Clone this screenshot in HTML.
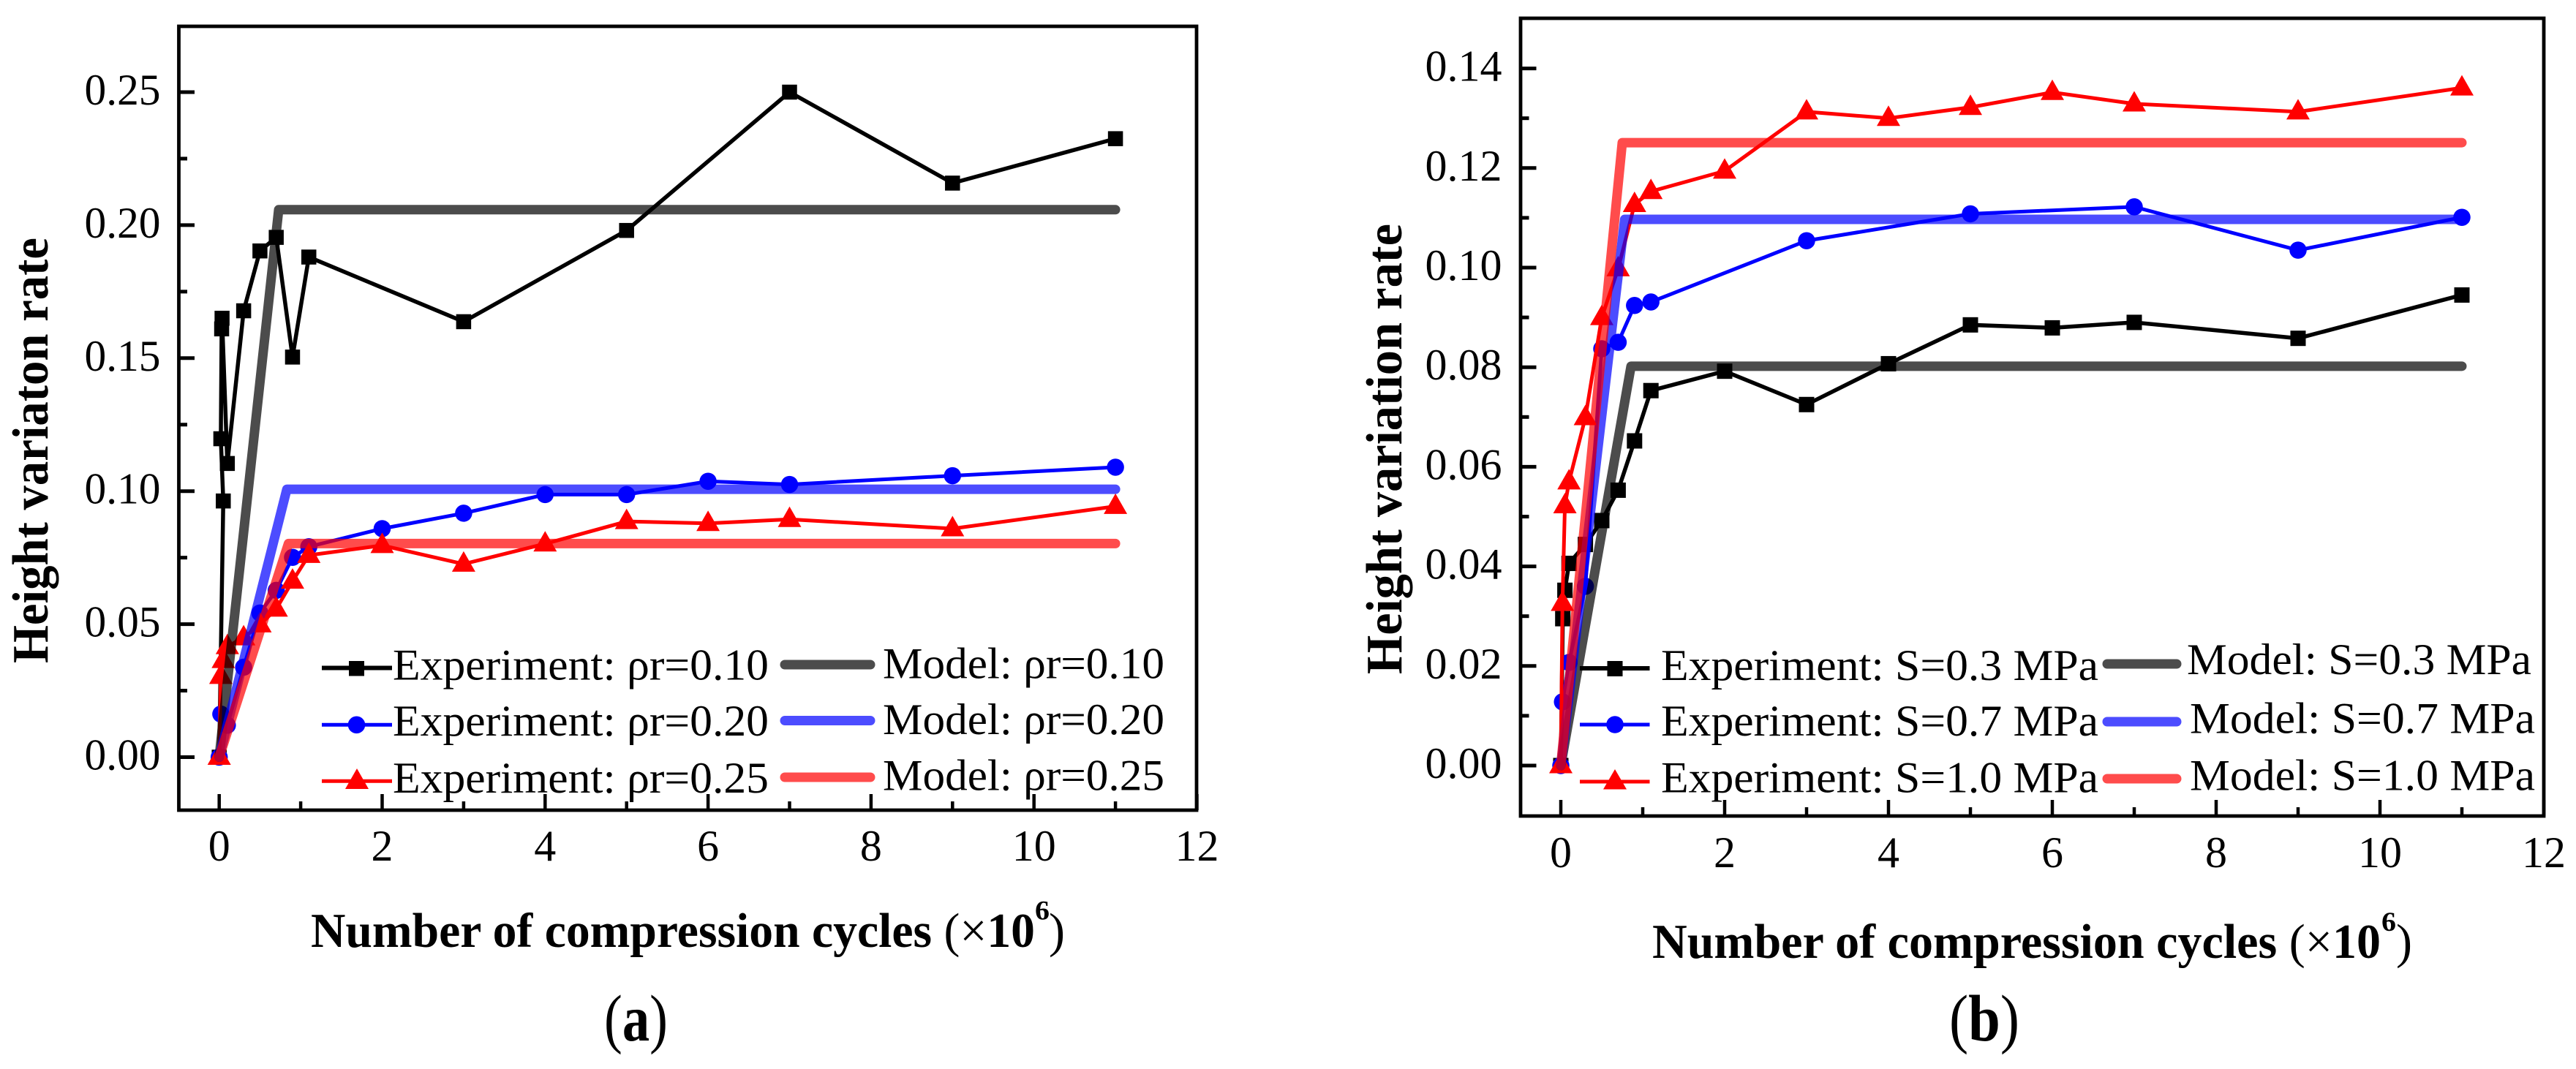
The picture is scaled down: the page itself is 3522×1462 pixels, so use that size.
<!DOCTYPE html>
<html lang="en">
<head>
<meta charset="utf-8">
<title>Height variation rate vs. compression cycles</title>
<style>
html,body{margin:0;padding:0;background:#fff;width:3522px;height:1462px;overflow:hidden}
svg{display:block}
text{font-family:"Liberation Serif","DejaVu Serif",serif;fill:#000}
.b{font-weight:bold}
.n{font-weight:normal}
</style>
</head>
<body>
<svg id="figure" xmlns="http://www.w3.org/2000/svg" width="3522" height="1462" viewBox="0 0 3522 1462">
  <rect x="0" y="0" width="3522" height="1462" fill="#fff"/>

  <g id="panel-a"></g>
  <g id="panel-b"></g>

  <!-- Panel (a) titles -->
  <text class="b" font-size="70" textLength="582" lengthAdjust="spacingAndGlyphs" transform="translate(65,907) rotate(-90)">Height variaton rate</text>
  <g>
    <text class="b" font-size="67" x="425" y="1295" textLength="990" lengthAdjust="spacingAndGlyphs">Number of compression cycles <tspan class="n">(×</tspan>10</text>
    <text class="b" font-size="37" x="1415" y="1257.5" textLength="20" lengthAdjust="spacingAndGlyphs">6</text>
    <text class="n" font-size="67" x="1434" y="1295" textLength="22" lengthAdjust="spacingAndGlyphs">)</text>
  </g>
  <text font-size="90" x="826" y="1423" textLength="87" lengthAdjust="spacingAndGlyphs">(<tspan class="b">a</tspan>)</text>

  <!-- Panel (b) titles -->
  <text class="b" font-size="70" textLength="616" lengthAdjust="spacingAndGlyphs" transform="translate(1916,922) rotate(-90)">Height variation rate</text>
  <g>
    <text class="b" font-size="67" x="2259" y="1310" textLength="996" lengthAdjust="spacingAndGlyphs">Number of compression cycles <tspan class="n">(×</tspan>10</text>
    <text class="b" font-size="37" x="3256" y="1273" textLength="20" lengthAdjust="spacingAndGlyphs">6</text>
    <text class="n" font-size="67" x="3276" y="1310" textLength="22" lengthAdjust="spacingAndGlyphs">)</text>
  </g>
  <text font-size="90" x="2665" y="1423" textLength="96" lengthAdjust="spacingAndGlyphs">(<tspan class="b">b</tspan>)</text>

  <!-- Panel (a) legend -->
  <g>
    <g>
      <line x1="440" x2="536" y1="913.5" y2="913.5" stroke="#000" stroke-width="6"/>
      <rect x="477" y="904" width="21" height="20.5" fill="#000"/>
      <text font-size="60" x="537" y="929.5" textLength="514" lengthAdjust="spacingAndGlyphs">Experiment: ρr=0.10</text>
    </g>
    <g>
      <line x1="440" x2="536" y1="991.3" y2="991.3" stroke="#00f" stroke-width="5"/>
      <circle cx="487.5" cy="991.3" r="11.8" fill="#00f"/>
      <text font-size="60" x="537" y="1006" textLength="514" lengthAdjust="spacingAndGlyphs">Experiment: ρr=0.20</text>
    </g>
    <g>
      <line x1="440" x2="536" y1="1068.3" y2="1068.3" stroke="#f00" stroke-width="5"/>
      <polygon points="472,1079 488,1051 504,1079" fill="#f00"/>
      <text font-size="60" x="537" y="1084" textLength="514" lengthAdjust="spacingAndGlyphs">Experiment: ρr=0.25</text>
    </g>
    <g>
      <line x1="1073" x2="1190" y1="909" y2="909" stroke="#000" stroke-opacity=".7" stroke-width="13" stroke-linecap="round"/>
      <text font-size="60" x="1207" y="927.5" textLength="385" lengthAdjust="spacingAndGlyphs">Model: ρr=0.10</text>
    </g>
    <g>
      <line x1="1073" x2="1190" y1="985.5" y2="985.5" stroke="#00f" stroke-opacity=".7" stroke-width="13" stroke-linecap="round"/>
      <text font-size="60" x="1207" y="1004" textLength="385" lengthAdjust="spacingAndGlyphs">Model: ρr=0.20</text>
    </g>
    <g>
      <line x1="1073" x2="1190" y1="1063" y2="1063" stroke="#f00" stroke-opacity=".7" stroke-width="13" stroke-linecap="round"/>
      <text font-size="60" x="1207" y="1080.5" textLength="385" lengthAdjust="spacingAndGlyphs">Model: ρr=0.25</text>
    </g>
  </g>

  <!-- Panel (b) legend -->
  <g>
    <g>
      <line x1="2160" x2="2255.5" y1="914" y2="914" stroke="#000" stroke-width="6"/>
      <rect x="2197.5" y="904" width="21" height="21" fill="#000"/>
      <text font-size="60" x="2271" y="930" textLength="598" lengthAdjust="spacingAndGlyphs">Experiment: S=0.3 MPa</text>
    </g>
    <g>
      <line x1="2160" x2="2255.5" y1="991" y2="991" stroke="#00f" stroke-width="5"/>
      <circle cx="2208" cy="991" r="11.8" fill="#00f"/>
      <text font-size="60" x="2271" y="1006" textLength="598" lengthAdjust="spacingAndGlyphs">Experiment: S=0.7 MPa</text>
    </g>
    <g>
      <line x1="2160" x2="2255.5" y1="1069" y2="1069" stroke="#f00" stroke-width="5"/>
      <polygon points="2192,1079.5 2208,1052 2224,1079.5" fill="#f00"/>
      <text font-size="60" x="2271" y="1083.5" textLength="598" lengthAdjust="spacingAndGlyphs">Experiment: S=1.0 MPa</text>
    </g>
    <g>
      <line x1="2881" x2="2976" y1="908" y2="908" stroke="#000" stroke-opacity=".7" stroke-width="13" stroke-linecap="round"/>
      <text font-size="60" x="2990" y="922" textLength="471" lengthAdjust="spacingAndGlyphs">Model: S=0.3 MPa</text>
    </g>
    <g>
      <line x1="2881" x2="2976" y1="987" y2="987" stroke="#00f" stroke-opacity=".7" stroke-width="13" stroke-linecap="round"/>
      <text font-size="60" x="2994" y="1002.5" textLength="472" lengthAdjust="spacingAndGlyphs">Model: S=0.7 MPa</text>
    </g>
    <g>
      <line x1="2881" x2="2976" y1="1065" y2="1065" stroke="#f00" stroke-opacity=".7" stroke-width="13" stroke-linecap="round"/>
      <text font-size="60" x="2994" y="1080.5" textLength="472" lengthAdjust="spacingAndGlyphs">Model: S=1.0 MPa</text>
    </g>
  </g>
</svg>

<script>
// ---------- Panel (a) data ----------
const aBlackX = [0, 0.05, 0.02, 0.03, 0.035, 0.1, 0.3, 0.5, 0.7, 0.9, 1.1, 3, 5, 7, 9, 11];
const aBlackY = [0, 0.0963, 0.1197, 0.161, 0.165, 0.1104, 0.1678, 0.1903, 0.1954, 0.1504, 0.188, 0.1637, 0.198, 0.25, 0.2158, 0.2325];
const aBlueX = [0, 0.02, 0.1, 0.3, 0.5, 0.7, 0.9, 1.1, 2, 3, 4, 5, 6, 7, 9, 11];
const aBlueY = [0, 0.0162, 0.012, 0.0338, 0.0542, 0.0627, 0.0751, 0.0791, 0.0859, 0.0917, 0.0987, 0.0987, 0.1037, 0.1025, 0.1058, 0.109];
const aRedX = [0, 0.02, 0.05, 0.1, 0.3, 0.5, 0.7, 0.9, 1.1, 2, 3, 4, 5, 6, 7, 9, 11];
const aRedY = [0, 0.0304, 0.0364, 0.0416, 0.0449, 0.0498, 0.0557, 0.0662, 0.0759, 0.0796, 0.0726, 0.0802, 0.0886, 0.0879, 0.0894, 0.0859, 0.0943];
const aModelBlackX = [0, 0.73, 11];
const aModelBlackY = [0, 0.2058, 0.2058];
const aModelBlueX = [0, 0.83, 11];
const aModelBlueY = [0, 0.1007, 0.1007];
const aModelRedX = [0, 0.85, 11];
const aModelRedY = [0, 0.0803, 0.0803];
const aYTickLabels = ['0.00', '0.05', '0.10', '0.15', '0.20', '0.25'];
const aYMinorTicks = [0.025, 0.075, 0.125, 0.175, 0.225];

// ---------- Panel (b) data ----------
const bBlackX = [0, 0.024, 0.05, 0.1, 0.3, 0.5, 0.7, 0.9, 1.1, 2, 3, 4, 5, 6, 7, 9, 11];
const bBlackY = [0, 0.0295, 0.0352, 0.0406, 0.0444, 0.0492, 0.0553, 0.0652, 0.0753, 0.0792, 0.0725, 0.0807, 0.0885, 0.0879, 0.089, 0.0858, 0.0945];
const bBlueX = [0, 0.02, 0.1, 0.3, 0.5, 0.7, 0.9, 1.1, 3, 5, 7, 9, 11];
const bBlueY = [0, 0.0128, 0.0207, 0.036, 0.0837, 0.085, 0.0924, 0.0931, 0.1054, 0.1108, 0.1122, 0.1035, 0.1101];
const bRedX = [0, 0.02, 0.05, 0.1, 0.3, 0.5, 0.7, 0.9, 1.1, 2, 3, 4, 5, 6, 7, 9, 11];
const bRedY = [0, 0.0326, 0.0522, 0.057, 0.0699, 0.09, 0.0998, 0.1127, 0.1153, 0.1194, 0.1313, 0.13, 0.1322, 0.1352, 0.1329, 0.1313, 0.1361];
const bModelBlackX = [0, 0.857, 11];
const bModelBlackY = [0, 0.0802, 0.0802];
const bModelBlueX = [0, 0.78, 11];
const bModelBlueY = [0, 0.1097, 0.1097];
const bModelRedX = [0, 0.75, 11];
const bModelRedY = [0, 0.1251, 0.1251];
const bYTickLabels = ['0.00', '0.02', '0.04', '0.06', '0.08', '0.10', '0.12', '0.14'];
const bYMinorTicks = [0.01, 0.03, 0.05, 0.07, 0.09, 0.11, 0.13];

// ---------- Shared x axis ----------
const xTickLabels = ['0', '2', '4', '6', '8', '10', '12'];
const xMinorTicks = [1, 3, 5, 7, 9, 11];

const NS = 'http://www.w3.org/2000/svg';
function make(parent, tag, attrs) {
  const node = document.createElementNS(NS, tag);
  for (const k in attrs) node.setAttribute(k, attrs[k]);
  parent.appendChild(node);
  return node;
}

function drawSeries(root, xs, ys, sx, sy, color, marker, size, lineWidth) {
  const series = make(root, 'g', {});
  
  
  const pts = xs.map((v, i) => sx(v) + ',' + sy(ys[i])).join(' ');
  const line = make(series, 'polyline', {points: pts, fill: 'none', stroke: color, 'stroke-width': lineWidth, 'stroke-linejoin': 'miter'});
  
  
  xs.forEach((v, i) => {
    const cx = sx(v), cy = sy(ys[i]);
    let m;
    if (marker === 'square') {
      m = make(series, 'rect', {x: cx - size / 2, y: cy - size / 2, width: size, height: size, fill: color});
    } else if (marker === 'circle') {
      m = make(series, 'circle', {cx: cx, cy: cy, r: size / 2, fill: color});
    } else {
      m = make(series, 'polygon', {points: (cx - size / 2) + ',' + (cy + 10.5) + ' ' + cx + ',' + (cy - 17.5) + ' ' + (cx + size / 2) + ',' + (cy + 10.5), fill: color});
    }
    
    
  });
}

function drawModel(root, xs, ys, sx, sy, color) {
  const pts = xs.map((v, i) => sx(v) + ',' + sy(ys[i])).join(' ');
  const line = make(root, 'polyline', {points: pts, fill: 'none', stroke: color, 'stroke-opacity': 0.7, 'stroke-width': 13, 'stroke-linejoin': 'round', 'stroke-linecap': 'round'});
  
  
}

function drawAxes(root, p, sx, sy) {
  const frame = make(root, 'rect', {x: p.left, y: p.top, width: p.right - p.left, height: p.bottom - p.top, fill: 'none', stroke: '#000', 'stroke-width': 4.8});
  
  

  xTickLabels.forEach(label => {
    const v = parseFloat(label);
    const tick = make(root, 'line', {x1: sx(v), x2: sx(v), y1: p.bottom, y2: p.bottom - 22, stroke: '#000', 'stroke-width': 4.5});
    
    
    const t = make(root, 'text', {x: sx(v), y: p.xLabelY, 'font-size': 60, 'text-anchor': 'middle'});
    
    
    t.textContent = label;
  });
  xMinorTicks.forEach(v => {
    const tick = make(root, 'line', {x1: sx(v), x2: sx(v), y1: p.bottom, y2: p.bottom - 12, stroke: '#000', 'stroke-width': 4.5});
    
    
  });
  p.yLabels.forEach(label => {
    const v = parseFloat(label);
    const tick = make(root, 'line', {x1: p.left, x2: p.left + 21.5, y1: sy(v), y2: sy(v), stroke: '#000', 'stroke-width': 5});
    
    
    const t = make(root, 'text', {x: p.yLabelX, y: sy(v) + 17, 'font-size': 60, textLength: p.yLabelWidth, lengthAdjust: 'spacingAndGlyphs'});
    
    
    t.textContent = label;
  });
  p.yMinor.forEach(v => {
    const tick = make(root, 'line', {x1: p.left, x2: p.left + 11.5, y1: sy(v), y2: sy(v), stroke: '#000', 'stroke-width': 5});
    
    
  });
}

// ---------- Panel (a) ----------
(function () {
  const root = document.getElementById('panel-a');
  const sx = v => 299.7 + v * 111.4;
  const sy = v => 1035.5 - v * 3638;
  drawAxes(root, {left: 244.5, right: 1636, top: 36, bottom: 1108, xLabelY: 1177, yLabelX: 115.5, yLabelWidth: 104, yLabels: aYTickLabels, yMinor: aYMinorTicks}, sx, sy);
  drawSeries(root, aBlackX, aBlackY, sx, sy, '#000', 'square', 20.5, 5.5);
  drawSeries(root, aBlueX, aBlueY, sx, sy, '#00f', 'circle', 23.5, 5);
  drawSeries(root, aRedX, aRedY, sx, sy, '#f00', 'triangle', 32, 5);
  drawModel(root, aModelBlackX, aModelBlackY, sx, sy, '#000');
  drawModel(root, aModelBlueX, aModelBlueY, sx, sy, '#00f');
  drawModel(root, aModelRedX, aModelRedY, sx, sy, '#f00');
})();

// ---------- Panel (b) ----------
(function () {
  const root = document.getElementById('panel-b');
  const sx = v => 2134 + v * 112;
  const sy = v => 1047 - v * 6810;
  drawAxes(root, {left: 2079, right: 3478, top: 25, bottom: 1116, xLabelY: 1186, yLabelX: 1948.5, yLabelWidth: 105, yLabels: bYTickLabels, yMinor: bYMinorTicks}, sx, sy);
  drawSeries(root, bBlackX, bBlackY, sx, sy, '#000', 'square', 21, 5.5);
  drawSeries(root, bBlueX, bBlueY, sx, sy, '#00f', 'circle', 23.5, 5);
  drawSeries(root, bRedX, bRedY, sx, sy, '#f00', 'triangle', 32, 5);
  drawModel(root, bModelBlackX, bModelBlackY, sx, sy, '#000');
  drawModel(root, bModelBlueX, bModelBlueY, sx, sy, '#00f');
  drawModel(root, bModelRedX, bModelRedY, sx, sy, '#f00');
})();
</script>
</body>
</html>
